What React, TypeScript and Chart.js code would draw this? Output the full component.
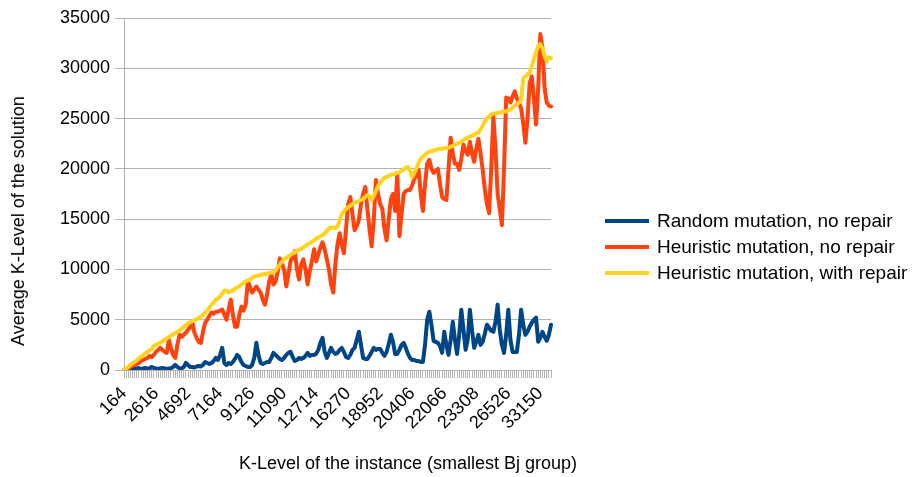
import React, { useEffect, useRef } from 'react';
import { Chart, registerables } from 'chart.js';

Chart.register(...registerables);

const tickLabels = ['164', '2616', '4692', '7164', '9126', '11090', '12714', '16270', '18952', '20406', '22066', '23308', '26526', '33150'];
const labelEvery = 15;
const pointCount = 201;

const seriesNames = ['Random mutation, no repair', 'Heuristic mutation, no repair', 'Heuristic mutation, with repair'];
const seriesColors = ['#004586', '#ff420e', '#ffd320'];

const randomNoRepair = [
  0, 50, 100, 100, 150, 100, 150, 200, 100, 150,
  200, 150, 150, 300, 200, 150, 100, 150, 200, 150,
  100, 150, 150, 300, 500, 300, 150, 150, 300, 700,
  500, 300, 300, 250, 350, 400, 350, 500, 800, 700,
  600, 700, 900, 1200, 1000, 1500, 2200, 700, 500, 700,
  600, 800, 1100, 1500, 1300, 800, 500, 400, 300, 300,
  500, 1200, 2700, 1500, 700, 600, 700, 800, 800, 1200,
  1700, 1500, 1300, 1100, 1000, 1200, 1500, 1700, 1800, 1300,
  900, 1000, 1200, 1100, 1200, 1400, 1700, 1400, 1500, 1500,
  1600, 2000, 2700, 3200, 1800, 1200, 1700, 2200, 1800, 1600,
  1700, 2000, 2200, 1800, 1300, 1200, 1500, 2000, 2200, 3000,
  3800, 2500, 1200, 1100, 1100, 1400, 1800, 2200, 2000, 2100,
  2100, 1700, 1400, 1800, 2600, 3500, 2800, 1600, 1600, 2000,
  2500, 2700, 2200, 1600, 1200, 1000, 1000, 900, 900, 800,
  800, 2500, 5000, 5800, 4500, 2900, 2800, 2700, 2400, 1700,
  3800, 2500, 1500, 3000, 4800, 3000, 1600, 3500, 6000, 4000,
  2000, 3000, 6000, 4000, 2200, 2800, 3500, 2500, 2800, 3600,
  4500, 4200, 3900, 3800, 4800, 6500, 4000, 2500, 1700, 3500,
  6000, 3000, 1800, 1800, 1800, 3500, 6000, 4500, 3500, 3800,
  4300, 4700, 5000, 5200, 2800, 3200, 3800, 3300, 2900, 3500,
  4500,
];

const heuristicNoRepair = [
  0, 100, 200, 300, 400, 500, 600, 700, 900, 1000,
  1100, 1200, 1400, 1300, 1500, 1800, 2000, 2200, 2000, 1800,
  1700, 3000, 2200, 1500, 1200, 2500, 3500, 3300, 3500, 3700,
  4000, 4300, 4700, 3700, 3200, 2800, 2700, 3800, 4700, 5000,
  5400, 5700, 5600, 5800, 5800, 5900, 6000, 5500, 5000, 6000,
  7000, 5500, 4300, 4300, 5500, 6300, 5900, 6500, 8800, 8300,
  7700, 8000, 8300, 8000, 7700, 7000, 6500, 7500, 8800, 9500,
  8500, 8800, 9800, 11100, 10500, 10000, 8300, 9500, 10800, 11300,
  11800, 10000, 9000, 10500, 11000, 10000, 8500, 9800, 10800, 12000,
  10800, 11500, 12200, 12700, 12000, 11000, 10000, 8500, 7700, 10500,
  12500, 13600, 12500, 11600, 14000, 16500, 17200, 15500, 13900, 14300,
  14900, 16500, 17500, 18200, 16000, 14000, 12300, 15000, 18900, 17500,
  16500, 16000, 14000, 12900, 15000, 17000, 17500, 15800, 19600, 13300,
  15500, 17500, 17800, 17900, 17900, 18400, 19000, 19400, 19900, 17500,
  15800, 18500, 20500, 20900, 20000, 19600, 19800, 20000, 18500, 17200,
  17000, 16900, 20000, 23100, 21500, 20500, 20500, 19900, 21000, 22400,
  21800, 21400, 22700, 21500, 20700, 22000, 23000, 21500, 19900, 18000,
  16500, 15600, 20000, 25200, 22000, 17500, 16000, 14400, 20000, 27100,
  27000, 26600, 27200, 27700, 27000, 26600, 26000, 24500, 22600, 25000,
  28500, 29200, 27000, 24400, 28000, 33400, 32000, 28000, 26600, 26300,
  26200,
];

const heuristicWithRepair = [
  0, 150, 300, 500, 650, 800, 950, 1150, 1300, 1500,
  1650, 1800, 1950, 2100, 2400, 2500, 2600, 2700, 2850, 3000,
  3150, 3300, 3400, 3550, 3650, 3800, 3950, 4100, 4300, 4450,
  4650, 4750, 4850, 4950, 5050, 5150, 5300, 5500, 5700, 5900,
  6200, 6500, 6700, 7000, 7100, 7300, 7600, 7900, 7900, 7700,
  7800, 7900, 8100, 8200, 8350, 8500, 8650, 8800, 8900, 9000,
  9150, 9300, 9350, 9400, 9450, 9500, 9550, 9600, 9650, 9700,
  9700, 9900, 10200, 10500, 10800, 11000, 11150, 11300, 11450, 11600,
  11700, 11850, 11950, 12050, 12200, 12350, 12500, 12600, 12750, 12900,
  13050, 13200, 13300, 13400, 13600, 13800, 14100, 14150, 14200, 14100,
  14300, 14900, 15500, 15800, 16000, 16200, 16350, 16500, 16600, 16700,
  16800, 16900, 17000, 17200, 17400, 17300, 16900, 17300, 17800, 18300,
  18600, 18900, 19100, 19200, 19300, 19400, 19450, 19500, 19600, 19650,
  19800, 19950, 20100, 20200, 19800, 19200, 19600, 20100, 20600, 21000,
  21200, 21400, 21600, 21700, 21750, 21800, 21900, 21950, 22000, 22000,
  22050, 22100, 22100, 22200, 22300, 22400, 22500, 22600, 22700, 22850,
  23000, 23100, 23200, 23300, 23400, 23500, 23600, 23900, 24300, 24700,
  25000, 25200, 25400, 25500, 25500, 25550, 25600, 25650, 25700, 25700,
  25800, 25900, 26100, 26300, 26400, 26600, 26900, 29000, 29200, 29400,
  29600, 30200, 30900, 31600, 32200, 32400, 32000, 31200, 30700, 31100,
  31000,
];

const seriesValues = [randomNoRepair, heuristicNoRepair, heuristicWithRepair];

const yTitle = 'Average K-Level of the solution';
const xTitle = 'K-Level of the instance (smallest Bj group)';

const FONT = '"Liberation Sans", Arial, sans-serif';

export default function App() {
  const canvasRef = useRef<HTMLCanvasElement | null>(null);

  useEffect(() => {
    const canvas = canvasRef.current;
    if (!canvas) return;
    const categories = Array.from({ length: pointCount }, (_, i) =>
      i % labelEvery === 0 ? tickLabels[i / labelEvery] : ''
    );
    const chart = new Chart(canvas, {
      type: 'line',
      data: {
        labels: categories,
        datasets: seriesValues.map((vals, k) => ({
          label: seriesNames[k],
          data: vals,
          borderColor: seriesColors[k],
          backgroundColor: seriesColors[k],
          borderWidth: 4,
          pointRadius: 0,
          tension: 0,
          fill: false,
          borderJoinStyle: 'round' as const,
          borderCapStyle: 'round' as const,
          order: 3 - k,
        })),
      },
      options: {
        responsive: false,
        animation: false,
        devicePixelRatio: 1,
        layout: { padding: { left: 0, top: 18, right: 362, bottom: 0 } },
        plugins: { legend: { display: false }, tooltip: { enabled: false } },
        scales: {
          x: {
            type: 'category',
            offset: false,
            grid: { drawOnChartArea: false, drawTicks: true, tickLength: 8, color: '#b3b3b3' },
            border: { color: '#b3b3b3' },
            ticks: {
              autoSkip: false,
              minRotation: 45,
              maxRotation: 45,
              padding: 5,
              color: '#000',
              font: { family: FONT, size: 18 },
            },
            afterFit: (s: any) => {
              s.height = 107;
            },
          },
          y: {
            min: 0,
            max: 35000,
            grid: { color: '#b3b3b3', tickLength: 9 },
            border: { color: '#b3b3b3' },
            ticks: {
              stepSize: 5000,
              padding: 5,
              color: '#000',
              font: { family: FONT, size: 18 },
              callback: (v: any) => String(v),
            },
            afterFit: (s: any) => {
              s.width = 124;
            },
          },
        },
      },
    });
    return () => chart.destroy();
  }, []);

  const legendRows = [221, 247, 273];

  return (
    <div style={{ position: 'fixed', left: 0, top: 0, width: 913, height: 477, background: '#fff', fontFamily: FONT, color: '#000' }}>
      <canvas ref={canvasRef} width={913} height={477} style={{ position: 'absolute', left: 0, top: 0, width: 913, height: 477 }} />
      <div
        style={{
          position: 'absolute',
          left: 18,
          top: 221,
          transform: 'translate(-50%, -50%) rotate(-90deg)',
          whiteSpace: 'nowrap',
          fontSize: 18,
          lineHeight: '20px',
        }}
      >
        {yTitle}
      </div>
      <div
        style={{
          position: 'absolute',
          left: 408,
          top: 463,
          transform: 'translate(-50%, -50%)',
          whiteSpace: 'nowrap',
          fontSize: 18,
          lineHeight: '20px',
        }}
      >
        {xTitle}
      </div>
      {seriesNames.map((name, k) => (
        <div key={name} style={{ position: 'absolute', left: 605, top: legendRows[k] - 12, height: 24, display: 'flex', alignItems: 'center', whiteSpace: 'nowrap' }}>
          <div style={{ width: 44, height: 4, background: seriesColors[k], marginRight: 8 }} />
          <span style={{ fontSize: 19, lineHeight: '24px' }}>{name}</span>
        </div>
      ))}
    </div>
  );
}
